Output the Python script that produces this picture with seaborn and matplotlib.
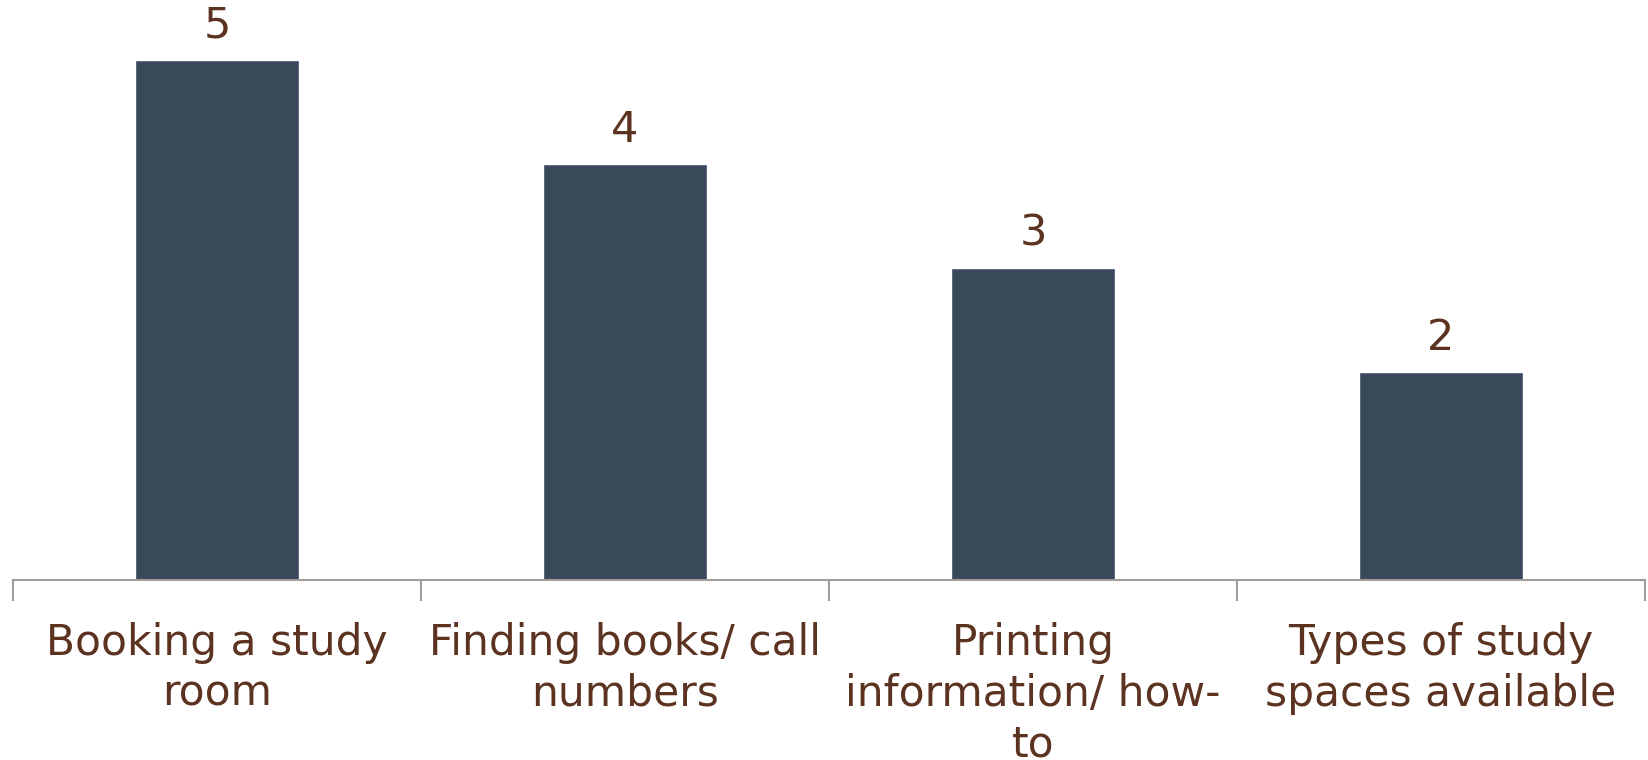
import matplotlib
matplotlib.use("Agg")
import matplotlib.pyplot as plt
import seaborn as sns
import pandas as pd

categories = [
    "Booking a study\nroom",
    "Finding books/ call\nnumbers",
    "Printing\ninformation/ how-\nto",
    "Types of study\nspaces available",
]
counts = [5, 4, 3, 2]

bar_color = "#394959"
text_color = "#5B3320"
axis_color = "#A09C9C"

sns.set_theme(style="white")
plt.rcParams["font.family"] = ["DejaVu Sans"]

df = pd.DataFrame({"topic": categories, "count": counts})

fig = plt.figure(figsize=(16.48, 7.6), dpi=100)
ax = fig.add_axes([13 / 1648, 180 / 760, 1632 / 1648, 580 / 760])

sns.barplot(data=df, x="topic", y="count", color=bar_color, width=0.4,
            saturation=1, ax=ax)

ax.set_xlim(-0.5, len(categories) - 0.5)
ax.set_ylim(0, 5.58)

for i, v in enumerate(counts):
    ax.text(i, v + 0.13, f"{v}", ha="center", va="bottom",
            fontsize=31, color=text_color)

for side in ["top", "right", "left"]:
    ax.spines[side].set_visible(False)
ax.spines["bottom"].set_color(axis_color)
ax.spines["bottom"].set_linewidth(1.5)

ax.set_yticks([])
ax.set_xlabel("")
ax.set_ylabel("")

ax.set_xticks(range(len(categories)))
ax.set_xticklabels(categories, fontsize=30.5, color=text_color,
                   linespacing=1.27)
ax.tick_params(axis="x", which="major", length=0, pad=30)
ax.set_xticks([i - 0.5 for i in range(len(categories) + 1)], minor=True)
ax.tick_params(axis="x", which="minor", length=15, width=1.5,
               color=axis_color, bottom=True)

fig.savefig("out.png", dpi=100, facecolor="white")
